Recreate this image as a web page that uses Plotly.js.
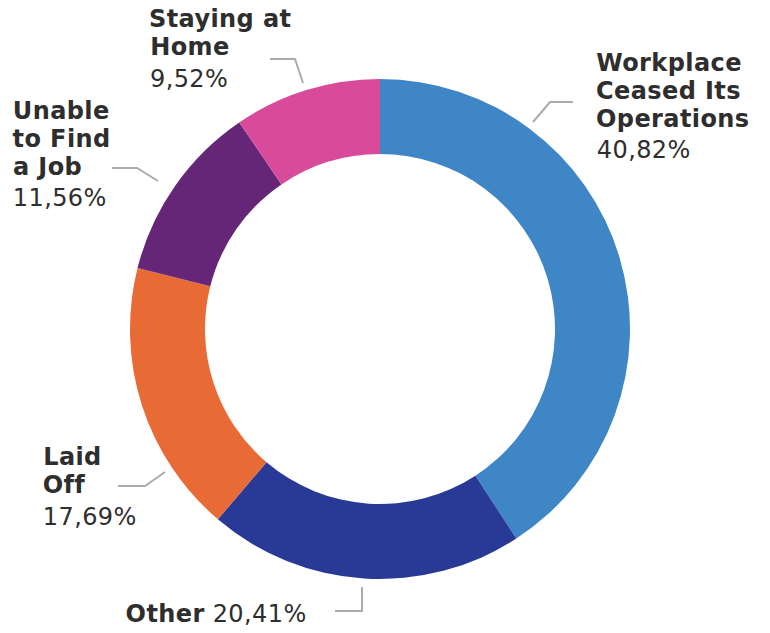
<!DOCTYPE html>
<html>
<head>
<meta charset="utf-8">
<script src="https://cdn.plot.ly/plotly-3.0.1.min.js"></script>
<style>html,body{margin:0;padding:0;background:#fff;}#chart{width:770px;height:633px;}
#chart .annotation-text{letter-spacing:0.4px;}</style>
</head>
<body>
<div id="chart"></div>
<script>
// ---- data ----
const categories = ["Workplace Ceased Its Operations", "Other", "Laid Off", "Unable to Find a Job", "Staying at Home"];
const values = [40.82, 20.41, 17.69, 11.56, 9.52];
const labelLines = [
  ["Workplace", "Ceased Its", "Operations"],
  ["Other"],
  ["Laid", "Off"],
  ["Unable", "to Find", "a Job"],
  ["Staying at", "Home"]
];
const colors = ["#3F86C6", "#283A96", "#E86B35", "#662678", "#D84B9B"];

// ---- layout config (pixel positions) ----
const W = 770, H = 633;
const px = x => x / W, py = y => 1 - y / H;
const FONT = "DejaVu Sans, sans-serif";
const TXT = "#2e2e2e";
const FS = 24;
// for each category: left x, centers of name lines, center of pct line (null = inline)
const labelPos = [
  {x: 597, lines: [63, 91, 119], pct: 150},
  {x: 127, lines: [614], pct: null},
  {x: 43, lines: [457, 485], pct: 517},
  {x: 13, lines: [111, 139, 167], pct: 198},
  {x: 150, lines: [19, 47], pct: 79}
];
const leaders = [
  [[573,102],[550,102],[533,122]],
  [[335,611],[362,611],[362,587]],
  [[118,486],[145,486],[165,472]],
  [[112,168],[137,168],[158,181]],
  [[270,59],[295,59],[303,83]]
];

const fmt = v => v.toFixed(2).replace('.', ',') + '%';

const annotations = [];
categories.forEach((c, i) => {
  const p = labelPos[i];
  labelLines[i].forEach((ln, j) => {
    let t = '<b>' + ln + '</b>';
    if (p.pct === null && j === labelLines[i].length - 1) t += ' ' + fmt(values[i]);
    annotations.push({x: px(p.x), y: py(p.lines[j]), xref: 'paper', yref: 'paper',
      xanchor: 'left', yanchor: 'middle', showarrow: false, text: t, borderpad: 0,
      font: {family: FONT, size: FS, color: TXT}});
  });
  if (p.pct !== null) {
    annotations.push({x: px(p.x), y: py(p.pct), xref: 'paper', yref: 'paper',
      xanchor: 'left', yanchor: 'middle', showarrow: false, text: fmt(values[i]), borderpad: 0,
      font: {family: FONT, size: FS, color: TXT}});
  }
});

const shapes = leaders.map(pts => ({
  type: 'path', xref: 'paper', yref: 'paper',
  path: pts.map((q, k) => (k ? 'L' : 'M') + px(q[0]) + ',' + py(q[1])).join(' '),
  line: {color: '#ABABAB', width: 2}
}));

const trace = {
  type: 'pie',
  labels: categories,
  values: values,
  hole: 0.70,
  sort: false,
  direction: 'clockwise',
  rotation: 0,
  textinfo: 'none',
  hoverinfo: 'label+percent',
  marker: {colors: colors, line: {width: 0}},
  domain: {x: [px(130), px(630)], y: [py(579), py(79)]},
  showlegend: false
};

Plotly.newPlot('chart', [trace], {
  width: W, height: H,
  margin: {l: 0, r: 0, t: 0, b: 0},
  paper_bgcolor: '#fff',
  annotations: annotations,
  shapes: shapes,
  showlegend: false
}, {displayModeBar: false, staticPlot: true});
</script>
</body>
</html>
